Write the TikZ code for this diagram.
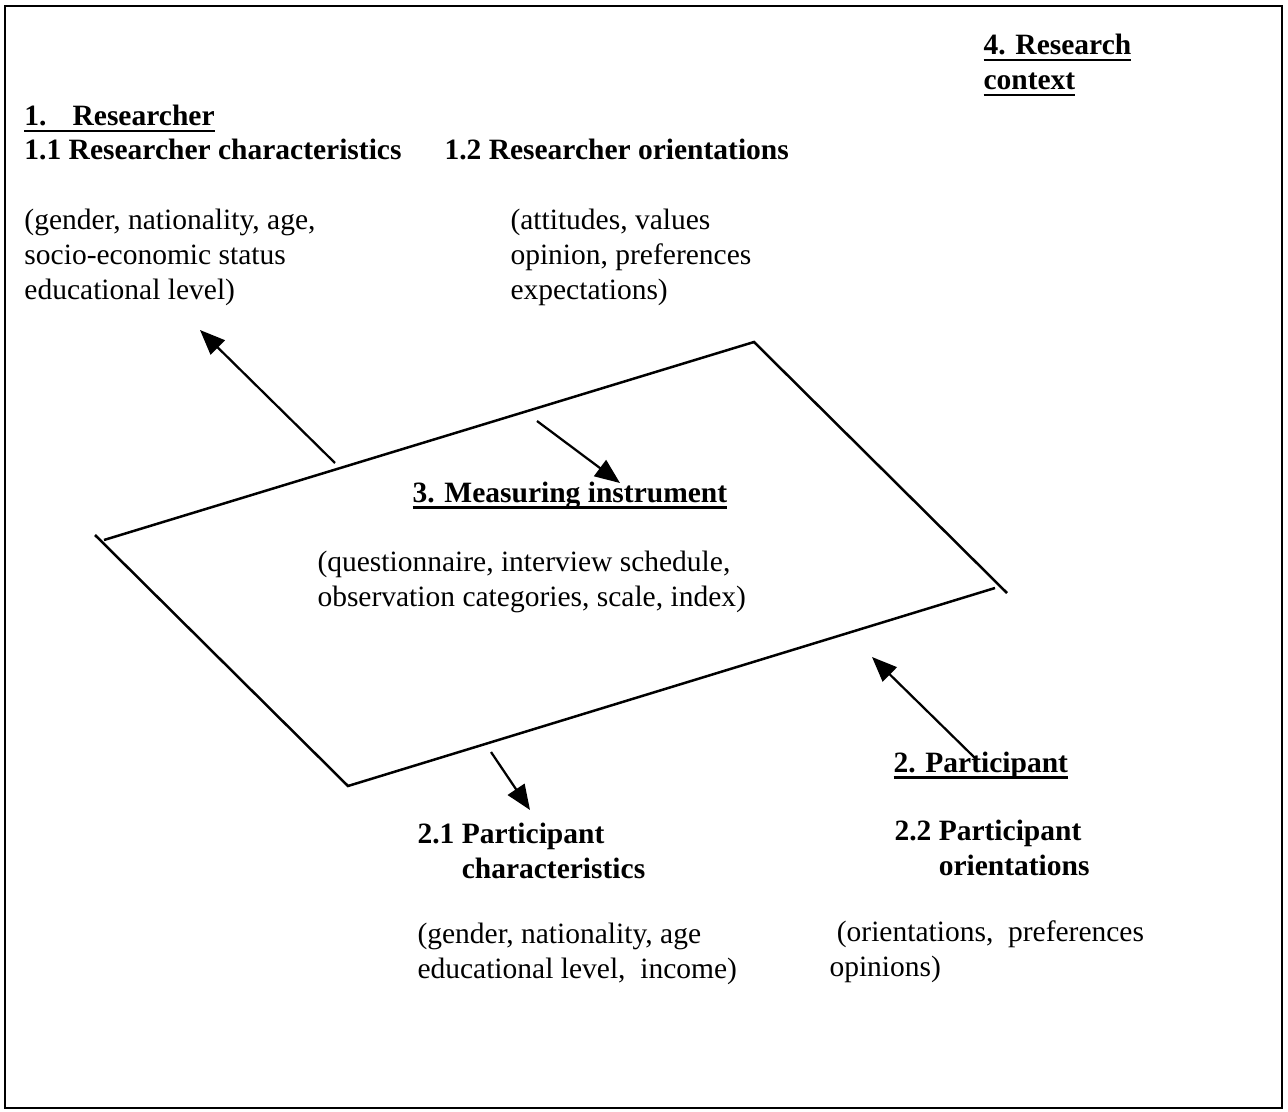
\documentclass[tikz,border=0pt]{standalone}
\usepackage{fontspec}
\setmainfont{Liberation Serif}
\usetikzlibrary{arrows.meta,positioning}
% heavier underline, as in the typed original
\newcommand{\hdline}[1]{\setbox0\hbox{#1}\rlap{\rule[-2.6pt]{\wd0}{0.9pt}}\box0}

\begin{document}
\begin{tikzpicture}[x=0.4pt,y=-0.4pt,font=\fontsize{11.8}{14}\selectfont,
  lbl/.style={anchor=base west,inner sep=0pt,align=left},
  hd/.style={lbl,font=\fontsize{11.8}{14}\selectfont\bfseries},
  arr/.style={-{Triangle[length=10pt,width=8pt]},line width=0.9pt}]
  \useasboundingbox (0,0) rectangle (1288,1112);
  \draw[line width=0.8pt] (5,6) rectangle (1282,1108);

  % the instrument plane
  \coordinate (pl) at (95,535);  \coordinate (pb) at (348,786);  \coordinate (pr) at (995,588);
  \coordinate (ql) at (104,540); \coordinate (qt) at (754,342);  \coordinate (qr) at (1007,593);
  \draw[line width=1pt] (pl) -- (pb) -- (pr);
  \draw[line width=1pt] (ql) -- (qt) -- (qr);

  % multi-line nodes sit on the baseline of their last line
  \node[hd] (ctx) at (983,90) {\hdline{4. Research}\\\hdline{context}};
  \node[hd] (res) at (24,126) {\hdline{1.\hspace{10.4pt}Researcher}};
  \node[hd] (rchar) at (24,160) {1.1 Researcher characteristics};
  \node[hd] (rori) at (444,160) {1.2 Researcher orientations};
  \node[lbl] (rchartxt) at (24,300) {(gender, nationality, age,\\socio-economic status\\educational level)};
  \node[lbl] (roritxt) at (510,300) {(attitudes, values\\opinion, preferences\\expectations)};

  \node[hd] (inst) at (412,502) {\hdline{3. Measuring instrument}};
  \node[lbl] (insttxt) at (317,606) {(questionnaire, interview schedule,\\observation categories, scale, index)};

  \node[hd] (part) at (893,772) {\hdline{2. Participant}};
  \node[hd] (pchar) at (417,878) {2.1 Participant\\\phantom{2.1 }characteristics};
  \node[hd] (pori) at (894,875) {2.2 Participant\\\phantom{2.2 }orientations};
  \node[lbl] (pchartxt) at (417,978) {(gender, nationality, age\\educational level,\ \ income)};
  \node[lbl] (poritxt) at (829,976) {\ (orientations,\ \ preferences\\opinions)};

  % arrows
  \coordinate (a1s) at (335,463); \coordinate (a1e) at (200,330);
  \coordinate (a2s) at (537,421); \coordinate (a2e) at (620,483);
  \coordinate (a3s) at (491,752); \coordinate (a3e) at (530,810);
  \coordinate (a4s) at (975,758); \coordinate (a4e) at (872,657);
  \draw[arr] (a1s) -- (a1e);
  \draw[arr] (a2s) -- (a2e);
  \draw[arr] (a3s) -- (a3e);
  \draw[arr] (a4s) -- (a4e);
\end{tikzpicture}
\end{document}
